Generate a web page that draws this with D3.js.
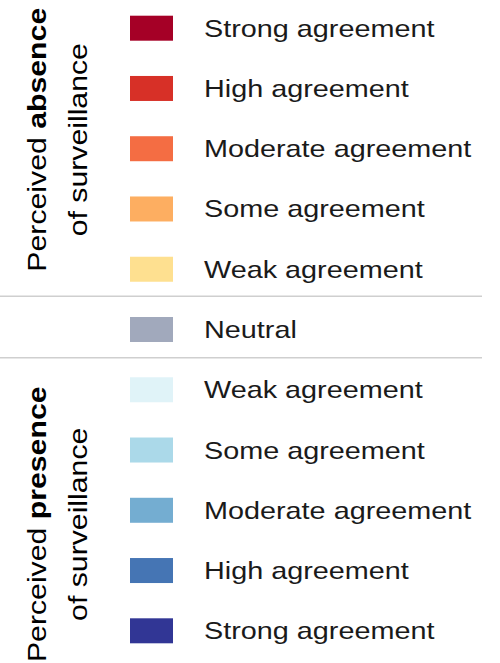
<!DOCTYPE html>
<html>
<head>
<meta charset="utf-8">
<script src="https://cdn.jsdelivr.net/npm/d3@7"></script>
<style>
  html, body { margin: 0; padding: 0; background: #fff; }
  svg { display: block; }
</style>
</head>
<body>
<svg id="chart" width="500" height="663"></svg>
<script>
// ---- data ----
const categories = [
  "Strong agreement", "High agreement", "Moderate agreement", "Some agreement", "Weak agreement",
  "Neutral",
  "Weak agreement", "Some agreement", "Moderate agreement", "High agreement", "Strong agreement"
];
const groups = ["absence", "absence", "absence", "absence", "absence",
                "neutral",
                "presence", "presence", "presence", "presence", "presence"];
const colors = ["#a50026", "#d73027", "#f46d43", "#fdae61", "#fee090",
                "#a1a9bc",
                "#e0f3f8", "#abd9e9", "#74add1", "#4575b4", "#313695"];
const groupTitles = [
  { key: "absence", pre: "Perceived ", bold: "absence", line2: "of surveillance" },
  { key: "presence", pre: "Perceived ", bold: "presence", line2: "of surveillance" }
];

// ---- drawing ----
const svg = d3.select("#chart");
const y = d3.scalePoint().domain(d3.range(categories.length)).range([28.2, 630.8]);
const color = d3.scaleOrdinal().domain(d3.range(categories.length)).range(colors);
const font = "'Liberation Sans', Arial, Helvetica, sans-serif";

const swW = 43, swH = 25, swX = 130, textX = 204, sx = 1.2;

const rows = svg.append("g").selectAll("g").data(categories).join("g")
  .attr("transform", (d, i) => `translate(0,${y(i)})`);
rows.append("rect")
  .attr("x", swX).attr("y", -swH / 2).attr("width", swW).attr("height", swH)
  .attr("fill", (d, i) => color(i));
rows.append("text")
  .attr("transform", `translate(${textX},8.5) scale(${sx},1)`)
  .attr("font-family", font).attr("font-size", 24).attr("fill", "#1a1a1a")
  .text(d => d);

// separators
const neutralIdx = groups.indexOf("neutral");
const step = y.step();
[y(neutralIdx) - step / 2 - 3, y(neutralIdx) + step / 2 - 2].forEach(yy => {
  svg.append("line").attr("x1", 0).attr("x2", 482).attr("y1", yy).attr("y2", yy)
    .attr("stroke", "#cfcfcf").attr("stroke-width", 1.5);
});

// vertical titles
groupTitles.forEach(gt => {
  const idx = groups.map((g, i) => g === gt.key ? i : -1).filter(i => i >= 0);
  const cy = d3.mean(idx, i => y(i)) + (gt.key === "absence" ? -9 : 14);
  const t1 = svg.append("text")
    .attr("transform", `translate(46,${cy}) rotate(-90) scale(1.21,1)`)
    .attr("text-anchor", "middle").attr("font-family", font).attr("font-size", 25)
    .attr("fill", "#000");
  t1.append("tspan").text(gt.pre);
  t1.append("tspan").attr("font-weight", "bold").text(gt.bold);
  svg.append("text")
    .attr("transform", `translate(87,${cy}) rotate(-90) scale(1.21,1)`)
    .attr("text-anchor", "middle").attr("font-family", font).attr("font-size", 25)
    .attr("fill", "#000").text(gt.line2);
});
</script>
</body>
</html>
